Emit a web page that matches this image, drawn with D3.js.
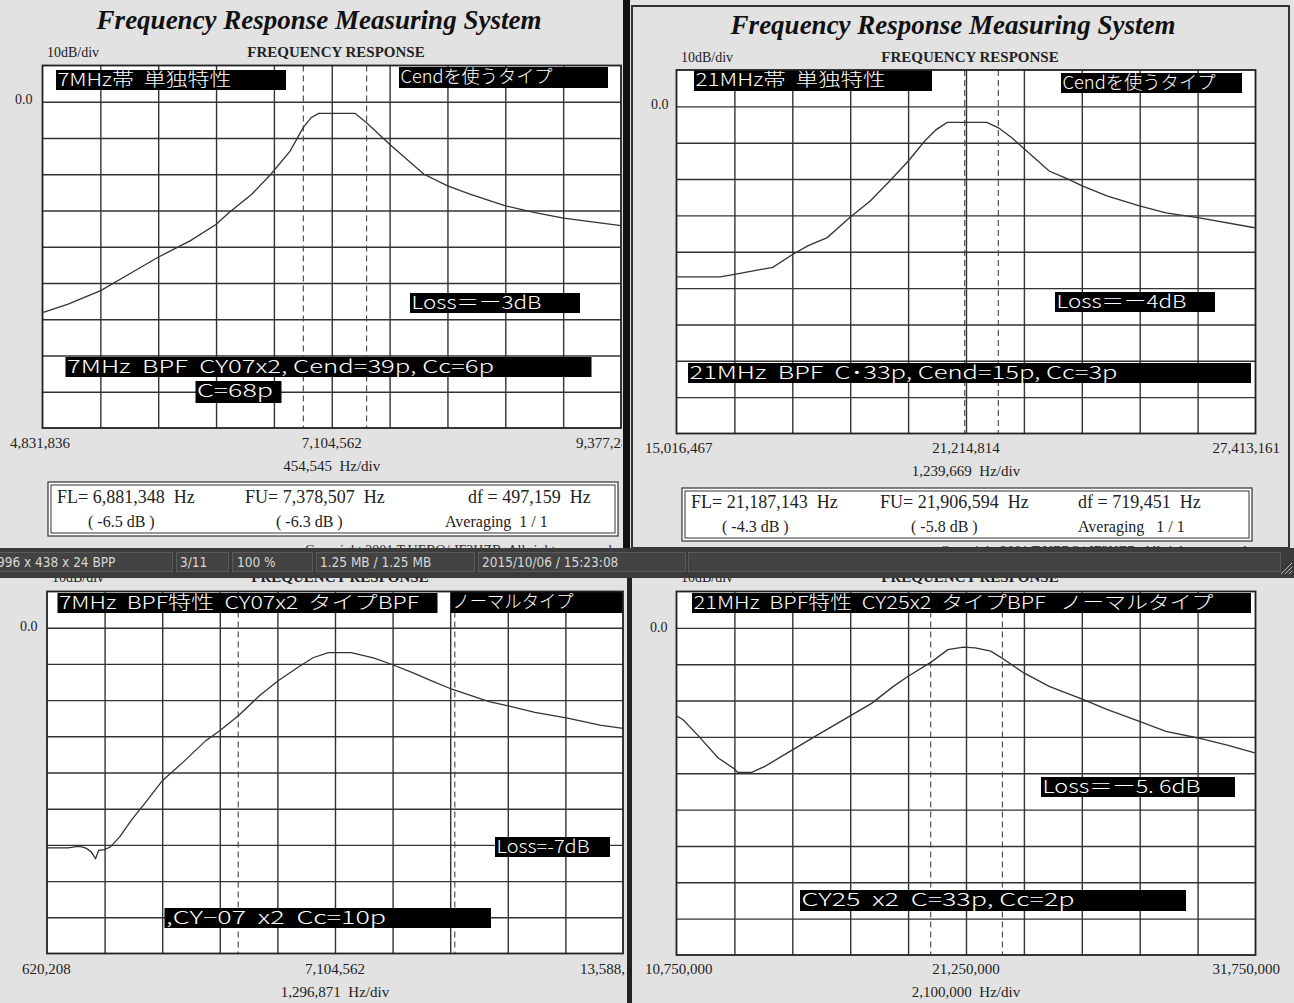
<!DOCTYPE html>
<html>
<head>
<meta charset="utf-8">
<script src="https://cdn.jsdelivr.net/npm/d3@7"></script>
<style>
  html, body { margin: 0; padding: 0; background: #ffffff; }
  svg text { white-space: pre; }
</style>
</head>
<body>
<div id="chart"></div>
<script>
// ---- values (frequency in MHz, level in dB) ----

// top-left : 7MHz band, Cend type
const p1Freq = [4.838, 5.033, 5.289, 5.514, 5.740, 5.995, 6.197, 6.296, 6.476, 6.626, 6.777, 6.879,
  6.942, 7.002, 7.288, 7.378, 7.559, 7.829, 8.015, 8.190, 8.470, 8.701, 8.926, 9.377];
const p1Db = [-58.1, -55.8, -52.1, -47.5, -42.9, -38.3, -33.8, -30.6, -25.5, -20.0, -13.6, -7.2,
  -4.4, -3.2, -3.2, -5.8, -11.7, -20.0, -23.2, -25.5, -28.7, -30.6, -32.1, -34.2];
const p1Markers = [6.881348, 7.378507];
const p1AxisLabels = ["4,831,836", "7,104,562", "9,377,286"];

// top-right : 21MHz band, Cend type
const p2Freq = [15.033, 15.950, 16.259, 17.076, 17.509, 17.826, 18.243, 18.727, 19.159, 19.577, 19.976,
  20.326, 20.578, 20.811, 21.661, 21.910, 22.203, 22.453, 22.995, 23.413, 23.703, 24.245, 24.929,
  25.495, 26.180, 27.397];
const p2Db = [-46.9, -46.9, -46.2, -44.3, -40.7, -38.4, -36.1, -30.6, -26.1, -20.6, -15.1,
  -9.6, -6.4, -4.4, -4.4, -5.9, -8.7, -11.6, -17.8, -20.1, -21.9, -24.7, -27.4,
  -29.3, -30.6, -33.4];
const p2Markers = [21.187143, 21.906594];
const p2AxisLabels = ["15,016,467", "21,214,814", "27,413,161"];

// bottom-left : 7MHz BPF, normal type
const p3Freq = [0.620, 1.094, 1.310, 1.439, 1.525, 1.611, 1.715, 1.783, 1.913, 2.042, 2.257, 2.516,
  2.817, 3.223, 3.680, 4.196, 4.515, 4.928, 5.403, 5.817, 6.264, 6.609, 6.954, 7.470, 7.988,
  8.418, 8.850, 9.281, 9.737, 10.572, 11.004, 11.607, 12.340, 13.071, 13.589];
const p3Db = [-60.8, -60.8, -60.4, -60.6, -61.1, -61.9, -63.8, -61.5, -61.3, -60.6, -57.8, -53.2,
  -48.6, -42.2, -37.2, -31.2, -28.4, -24.3, -18.8, -14.7, -11.0, -8.3, -6.9, -6.9, -8.4,
  -10.3, -12.4, -14.7, -17.0, -20.4, -21.6, -23.4, -25.0, -26.9, -27.8];
const p3Markers = [4.926, 9.802];
const p3AxisLabels = ["620,208", "7,104,562", "13,588,918"];

// bottom-right : 21MHz BPF, normal type
const p4Freq = [10.777, 10.989, 11.554, 12.262, 12.854, 12.968, 13.461, 13.957, 14.973, 15.792, 17.035,
  17.840, 18.617, 19.152, 19.971, 20.593, 21.158, 21.582, 22.147, 22.571, 23.348, 24.266, 25.465,
  26.382, 27.542, 28.501, 29.661, 30.761, 31.723];
const p4Db = [-24.3, -25.3, -29.8, -35.8, -38.8, -39.8, -39.8, -38.1, -33.5, -29.8, -24.3,
  -20.7, -16.1, -13.3, -9.5, -6.0, -5.3, -5.5, -6.4, -8.4, -12.4, -16.1, -19.6,
  -22.5, -25.7, -28.5, -30.3, -32.3, -34.4];
const p4Markers = [19.97, 22.57];
const p4AxisLabels = ["10,750,000", "21,250,000", "31,750,000"];

// sweep start and step per division (MHz)
const sweepStarts = [4.831836, 15.016467, 0.620208, 10.75];
const sweepSteps = [0.454545, 1.239669, 1.296871, 2.1];
const stepLabels = ["454,545  Hz/div", "1,239,669  Hz/div", "1,296,871  Hz/div", "2,100,000  Hz/div"];

// FL / FU readouts of the top screenshots
const readoutTop = [
  ["FL= 6,881,348  Hz", "FU= 7,378,507  Hz", "df = 497,159  Hz"],
  ["FL= 21,187,143  Hz", "FU= 21,906,594  Hz", "df = 719,451  Hz"]
];
const readoutBottom = [
  ["( -6.5 dB )", "( -6.3 dB )", "Averaging  1 / 1"],
  ["( -4.3 dB )", "( -5.8 dB )", "Averaging   1 / 1"]
];

const statusCells = ["996 x 438 x 24 BPP", "3/11", "100 %", "1.25 MB / 1.25 MB", "2015/10/06 / 15:23:08", ""];

const SERIF = "'Liberation Serif', 'DejaVu Serif', serif";
const GOTHIC = "'Noto Sans CJK JP', 'Noto Sans', sans-serif";
const BG = "#e2e2e2";

let width = 1294;
let height = 1003;
let svg = d3.select("#chart").append("svg")
  .attr("width", width)
  .attr("height", height);

svg.append("rect").attr("width", width).attr("height", height).attr("fill", BG);

// one panel per screenshot
const panels = [
  {
    freq: p1Freq, db: p1Db, markers: p1Markers, labels: p1AxisLabels, idx: 0,
    clip: [0, 0, 622, 548],
    plot: [42.5, 65.5, 621, 428],
    title: [319, 29], header: [47, 336, 57], zero: [15, 104],
    labelY: 448, leftX: 10, rightX: 576, rightAnchor: "start", stepY: 471,
    readout: [48, 482, 570, 54, [57, 245, 468], [88, 276, 445], 503, 527],
    copyright: [305, 555],
    notes: [
      ["7MHz帯  単独特性", 56, 70, 230, 20, 174],
      ["Cendを使うタイプ", 399, 67, 209, 21, 152],
      ["Loss＝ー3dB", 410, 293, 170, 20, 130],
      ["7MHz  BPF  CY07x2, Cend=39p, Cc=6p", 65.5, 357, 526, 20, 427],
      ["C=68p", 195.5, 381, 86, 22, 76]
    ]
  },
  {
    freq: p2Freq, db: p2Db, markers: p2Markers, labels: p2AxisLabels, idx: 1,
    clip: [634, 7, 655, 541],
    plot: [676.5, 70, 1255.5, 433.5],
    title: [953, 34], header: [681, 970, 62], zero: [651, 109],
    labelY: 453, leftX: 645, rightX: 1280, rightAnchor: "end", stepY: 476,
    readout: [682, 488, 570, 53, [691, 880, 1078], [722, 911, 1078], 508, 532],
    copyright: [940, 556],
    notes: [
      ["21MHz帯  単独特性", 694, 70, 238, 21, 190],
      ["Cendを使うタイプ", 1061, 73, 181, 20, 153],
      ["Loss＝ー4dB", 1055, 292, 160, 20, 130],
      ["21MHz  BPF  C･33p, Cend=15p, Cc=3p", 688, 363, 563, 20, 428]
    ]
  },
  {
    freq: p3Freq, db: p3Db, markers: p3Markers, labels: p3AxisLabels, idx: 2,
    clip: [0, 578, 625, 425],
    plot: [47, 591.5, 623, 953.5],
    title: null, header: [52, 340, 582], zero: [20, 631],
    labelY: 974, leftX: 22, rightX: 580, rightAnchor: "start", stepY: 997,
    readout: null, copyright: null,
    notes: [
      ["7MHz  BPF特性  CY07x2  タイプBPF", 57.5, 593, 380, 20, 360],
      ["ノーマルタイプ", 451, 592, 172, 21, 121],
      ["Loss=-7dB", 495, 837, 115, 20, 93],
      [",CY−07  x2  Cc=10p", 164.5, 908, 326.5, 20, 220]
    ]
  },
  {
    freq: p4Freq, db: p4Db, markers: p4Markers, labels: p4AxisLabels, idx: 3,
    clip: [632, 578, 662, 425],
    plot: [676.5, 591.5, 1255.5, 955],
    title: null, header: [681, 970, 582], zero: [650, 632],
    labelY: 974, leftX: 645, rightX: 1280, rightAnchor: "end", stepY: 997,
    readout: null, copyright: null,
    notes: [
      ["21MHz  BPF特性  CY25x2  タイプBPF   ノーマルタイプ", 692, 593, 559, 20, 520],
      ["Loss＝ー5. 6dB", 1041, 777, 194, 20, 158],
      ["CY25  x2  C=33p, Cc=2p", 800, 890, 386, 21, 273]
    ]
  }
];

panels.forEach(drawPanel);
drawFrames();
drawStatusBar();

function drawPanel(p) {
  let clipId = "clip" + p.idx;
  svg.append("clipPath").attr("id", clipId)
    .append("rect")
    .attr("x", p.clip[0]).attr("y", p.clip[1])
    .attr("width", p.clip[2]).attr("height", p.clip[3]);

  let g = svg.append("g").attr("clip-path", "url(#" + clipId + ")");
  let [x0, y0, x1, y1] = p.plot;
  let start = sweepStarts[p.idx];
  let step = sweepSteps[p.idx];

  let x = d3.scaleLinear().domain([start, start + 10 * step]).range([x0, x1]);
  // 10 dB/div, reference line 0.0 one division below the top
  let y = d3.scaleLinear().domain([10, -90]).range([y0, y1]);

  if (p.title) {
    g.append("text")
      .attr("x", p.title[0]).attr("y", p.title[1])
      .attr("text-anchor", "middle")
      .attr("font-family", SERIF).attr("font-size", 27)
      .attr("font-weight", "bold").attr("font-style", "italic")
      .attr("fill", "#111")
      .text("Frequency Response Measuring System");
  }

  g.append("text")
    .attr("x", p.header[0]).attr("y", p.header[2])
    .attr("font-family", SERIF).attr("font-size", 14).attr("fill", "#222")
    .text("10dB/div");
  g.append("text")
    .attr("x", p.header[1]).attr("y", p.header[2])
    .attr("text-anchor", "middle")
    .attr("font-family", SERIF).attr("font-size", 15).attr("font-weight", "bold").attr("fill", "#222")
    .text("FREQUENCY RESPONSE");

  g.append("text")
    .attr("x", p.zero[0]).attr("y", p.zero[1])
    .attr("font-family", SERIF).attr("font-size", 14).attr("fill", "#222")
    .text("0.0");

  // plot area
  g.append("rect")
    .attr("x", x0).attr("y", y0)
    .attr("width", x1 - x0).attr("height", y1 - y0)
    .attr("fill", "#ffffff");

  let freqTicks = d3.range(1, 10).map(i => start + i * step);
  let dbTicks = d3.range(0, -90, -10);

  g.append("g")
    .attr("transform", "translate(0," + y1 + ")")
    .call(d3.axisBottom(x).tickValues(freqTicks).tickSize(y1 - y0).tickFormat(""))
    .call(a => a.select(".domain").remove())
    .call(a => a.selectAll(".tick line")
      .attr("transform", "translate(0," + -(y1 - y0) + ")")
      .attr("stroke", "#333").attr("stroke-width", 1.4));

  g.append("g")
    .attr("transform", "translate(" + x0 + ",0)")
    .call(d3.axisRight(y).tickValues(dbTicks).tickSize(x1 - x0).tickFormat(""))
    .call(a => a.select(".domain").remove())
    .call(a => a.selectAll(".tick line")
      .attr("stroke", "#333").attr("stroke-width", 1.4));

  // FL / FU markers
  g.selectAll("line.marker")
    .data(p.markers)
    .enter()
      .append("line")
      .attr("class", "marker")
      .attr("x1", d => x(d)).attr("x2", d => x(d))
      .attr("y1", y0).attr("y2", y1)
      .attr("stroke", "#444").attr("stroke-width", 1.1)
      .attr("stroke-dasharray", "6,4");

  // response trace
  let points = p.freq.map((f, i) => [f, p.db[i]]);
  g.append("path")
    .datum(points)
    .attr("fill", "none")
    .attr("stroke", "#333")
    .attr("stroke-width", 1.3)
    .attr("d", d3.line().x(d => x(d[0])).y(d => y(d[1])));

  // black annotation boxes
  p.notes.forEach(n => {
    g.append("rect")
      .attr("x", n[1]).attr("y", n[2])
      .attr("width", n[3]).attr("height", n[4])
      .attr("fill", "#000");
    g.append("text")
      .attr("x", n[1] + 1.5).attr("y", n[2] + 16)
      .attr("font-family", GOTHIC).attr("font-size", 18).attr("font-weight", 300)
      .attr("fill", "#ffffff")
      .attr("textLength", n[5]).attr("lengthAdjust", "spacingAndGlyphs")
      .text(n[0]);
  });

  // plot border
  g.append("rect")
    .attr("x", x0).attr("y", y0)
    .attr("width", x1 - x0).attr("height", y1 - y0)
    .attr("fill", "none").attr("stroke", "#222").attr("stroke-width", 1.8);

  // frequency labels under the grid
  let labelFont = sel => sel.attr("font-family", SERIF).attr("font-size", 15).attr("fill", "#222");
  g.append("text").attr("x", p.leftX).attr("y", p.labelY).call(labelFont).text(p.labels[0]);
  g.append("text").attr("x", x(start + 5 * step)).attr("y", p.labelY)
    .attr("text-anchor", "middle").call(labelFont).text(p.labels[1]);
  g.append("text").attr("x", p.rightX).attr("y", p.labelY)
    .attr("text-anchor", p.rightAnchor).call(labelFont).text(p.labels[2]);
  g.append("text").attr("x", x(start + 5 * step)).attr("y", p.stepY)
    .attr("text-anchor", "middle").call(labelFont).text(stepLabels[p.idx]);

  if (p.readout) {
    let [rx, ry, rw, rh, cols1, cols2, row1, row2] = p.readout;
    g.append("rect").attr("x", rx).attr("y", ry).attr("width", rw).attr("height", rh)
      .attr("fill", "#fff").attr("stroke", "#333").attr("stroke-width", 1.2);
    g.append("rect").attr("x", rx + 3).attr("y", ry + 3).attr("width", rw - 6).attr("height", rh - 6)
      .attr("fill", "none").attr("stroke", "#333").attr("stroke-width", 1);
    let top = readoutTop[p.idx];
    let bottom = readoutBottom[p.idx];
    top.forEach((t, i) => {
      g.append("text").attr("x", cols1[i]).attr("y", row1)
        .attr("font-family", SERIF).attr("font-size", 18).attr("fill", "#222").text(t);
    });
    bottom.forEach((t, i) => {
      g.append("text").attr("x", cols2[i]).attr("y", row2)
        .attr("font-family", SERIF).attr("font-size", 16).attr("fill", "#222").text(t);
    });
  }

  if (p.copyright) {
    g.append("text").attr("x", p.copyright[0]).attr("y", p.copyright[1])
      .attr("font-family", SERIF).attr("font-size", 14).attr("fill", "#333")
      .text("Copyright 2001 T.UEBO/ JF3HZB  All rights reserved");
  }
}

// window borders between the screenshots
function drawFrames() {
  svg.append("rect").attr("x", 623).attr("y", 0).attr("width", 7).attr("height", 548).attr("fill", "#111");
  svg.append("rect").attr("x", 632).attr("y", 6).attr("width", 657).attr("height", 542)
    .attr("fill", "none").attr("stroke", "#333").attr("stroke-width", 2);
  svg.append("rect").attr("x", 627).attr("y", 578).attr("width", 5).attr("height", 425).attr("fill", "#222");
}

// image viewer status bar across the middle
function drawStatusBar() {
  let barY = 548;
  svg.append("rect").attr("x", 0).attr("y", barY).attr("width", width).attr("height", 30).attr("fill", "#3b3b3b");
  let cellEdges = [[-4, 172], [176, 228], [232, 312], [316, 474], [478, 685], [688, 1280]];
  let textX = [-3, 180, 237, 320, 482, 0];
  cellEdges.forEach((c, i) => {
    svg.append("rect")
      .attr("x", c[0] + 0.5).attr("y", barY + 4.5)
      .attr("width", c[1] - c[0]).attr("height", 19)
      .attr("fill", "#434343").attr("stroke", "#5a5a5a").attr("stroke-width", 1);
    svg.append("text")
      .attr("x", textX[i]).attr("y", barY + 19)
      .attr("font-family", "'DejaVu Sans Condensed', 'Liberation Sans Narrow', sans-serif")
      .attr("font-size", 13.5).attr("fill", "#d6d6d6")
      .text(statusCells[i]);
  });
  // resize grip
  d3.range(3).forEach(i => {
    svg.append("line")
      .attr("x1", 1281 + i * 4).attr("y1", barY + 26)
      .attr("x2", 1292).attr("y2", barY + 15 + i * 4)
      .attr("stroke", "#bbb").attr("stroke-width", 1);
  });
}
</script>
</body>
</html>
